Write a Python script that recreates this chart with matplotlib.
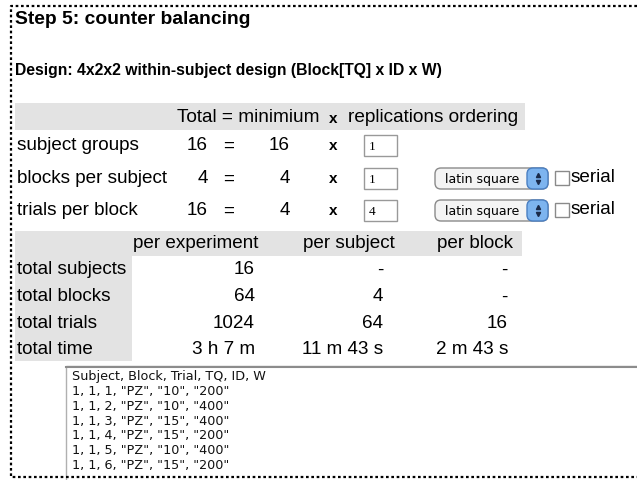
import matplotlib.pyplot as plt
from matplotlib.patches import Rectangle, FancyBboxPatch

# values shown on the page
title = "Step 5: counter balancing"
design = "Design: 4x2x2 within-subject design (Block[TQ] x ID x W)"

factor_rows = ["subject groups", "blocks per subject", "trials per block"]
totals = [16, 4, 16]
minimums = [16, 4, 4]
replications = [1, 1, 4]
orderings = [None, "latin square", "latin square"]

summary_cols = ["per experiment", "per subject", "per block"]
summary_rows = ["total subjects", "total blocks", "total trials", "total time"]
per_experiment = ["16", "64", "1024", "3 h 7 m"]
per_subject = ["-", "4", "64", "11 m 43 s"]
per_block = ["-", "-", "16", "2 m 43 s"]

csv_lines = [
    'Subject, Block, Trial, TQ, ID, W',
    '1, 1, 1, "PZ", "10", "200"',
    '1, 1, 2, "PZ", "10", "400"',
    '1, 1, 3, "PZ", "15", "400"',
    '1, 1, 4, "PZ", "15", "200"',
    '1, 1, 5, "PZ", "10", "400"',
    '1, 1, 6, "PZ", "15", "200"',
]

SANS = "Liberation Sans"
GRAY = "#e3e3e3"

fig = plt.figure(figsize=(6.37, 4.81), dpi=100)
ax = fig.add_axes([0, 0, 1, 1])
ax.set_xlim(0, 637)
ax.set_ylim(481, 0)
ax.axis("off")


def txt(x, y, s, size=13.6, ha="left", weight="normal", family=SANS, color="black"):
    ax.text(x, y, s, fontsize=size, ha=ha, va="center", weight=weight,
            family=family, color=color)


# headings
txt(15, 20, title, size=13.9, weight="bold")
txt(15, 71, design, size=11.3, weight="bold")

# top table
ax.add_patch(Rectangle((15, 104), 510, 27, facecolor=GRAY, edgecolor="none"))
txt(177, 118, "Total = minimium", size=13.7)
txt(333, 119, "x", size=11, ha="center", weight="bold")
txt(348, 118, "replications ordering", size=13.7)

row_y = [146, 179, 211]
for i, name in enumerate(factor_rows):
    y = row_y[i]
    txt(17, y, name)
    txt(208, y, str(totals[i]), ha="right")
    txt(229, y, "=", ha="center")
    txt(290, y, str(minimums[i]), ha="right")
    txt(333, y, "x", size=11, ha="center", weight="bold")
    # input box
    ax.add_patch(Rectangle((364, y - 10), 33, 21, facecolor="white",
                           edgecolor="#999999", lw=1))
    txt(369, y + 1, str(replications[i]), size=9.5, family="Liberation Serif")
    if orderings[i]:
        ax.add_patch(FancyBboxPatch((435, y - 10), 113, 21,
                                    boxstyle="round,pad=0,rounding_size=6",
                                    facecolor="#f4f4f4", edgecolor="#8a8a8a", lw=1))
        ax.add_patch(FancyBboxPatch((527, y - 10), 21, 21,
                                    boxstyle="round,pad=0,rounding_size=6",
                                    facecolor="#7db4ef", edgecolor="#4a7fc2", lw=1))
        ax.plot([537.5], [y - 3.5], marker="^", ms=3, color="#1a2a4a")
        ax.plot([537.5], [y + 3.5], marker="v", ms=3, color="#1a2a4a")
        txt(445, y + 1, orderings[i], size=9, family="DejaVu Sans")
        ax.add_patch(Rectangle((555, y - 7), 14, 14, facecolor="white",
                               edgecolor="#8a8a8a", lw=1))
        txt(571, y - 1, "serial")

# summary table
ax.add_patch(Rectangle((15, 232), 507, 25, facecolor=GRAY, edgecolor="none"))
ax.add_patch(Rectangle((15, 257), 117, 105, facecolor=GRAY, edgecolor="none"))
col_right = [255, 383, 508]
col_head = [133, 303, 437]
for j, c in enumerate(summary_cols):
    txt(col_head[j], 244, c)
sum_y = [270, 297, 324, 350]
for i, name in enumerate(summary_rows):
    y = sum_y[i]
    txt(17, y, name)
    for j, col in enumerate([per_experiment, per_subject, per_block]):
        txt(col_right[j], y, col[i], ha="right")

# csv output box
ax.add_patch(Rectangle((66, 367), 600, 200, facecolor="white",
                       edgecolor="#b0b0b0", lw=1, clip_on=True))
ax.plot([66, 637], [367.5, 367.5], color="#8c8c8c", lw=1.5)
for k, line in enumerate(csv_lines):
    txt(72, 377 + k * 14.7, line, size=9.2, family="DejaVu Sans", color="#111111")

# dotted page frame
ax.plot([637, 11, 11, 637], [7, 7, 478, 478], color="black", ls=(0, (1.2, 1.2)),
        lw=1.6)

fig.savefig("out.png", dpi=100)
